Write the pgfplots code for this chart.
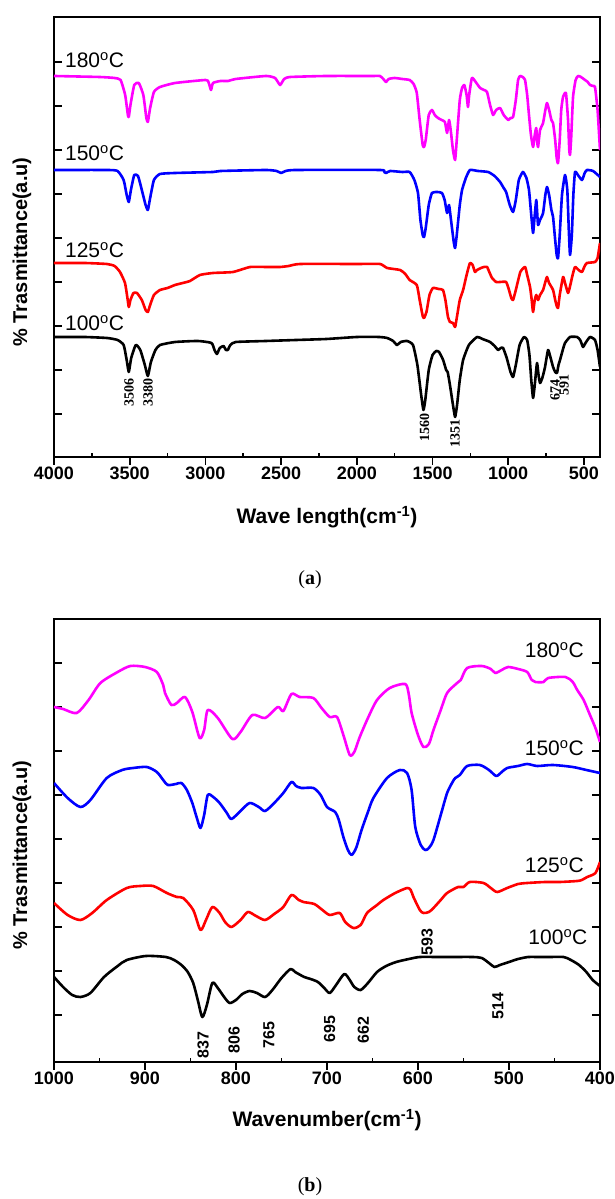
\documentclass[border=0pt]{standalone}
\usepackage{fontspec}
\setmainfont{Liberation Sans}
\newfontfamily\tnr{Liberation Serif}
\usepackage{pgfplots}
\pgfplotsset{compat=1.18}

\definecolor{mag}{RGB}{255,0,255}
\definecolor{blu}{RGB}{0,0,255}
\definecolor{rd}{RGB}{255,0,0}

\tikzset{clab/.style={font=\fontsize{21}{21}\selectfont}}
\pgfplotsset{
  ftir/.style={
    scale only axis, width=546pt, height=440pt,
    x dir=reverse,
    axis line style={line width=2.2pt},
    tick align=inside, major tick length=8pt, minor tick length=4pt,
    every tick/.style={black, line width=1.6pt},
    every major x tick/.append style={yshift=-8pt},
    xtick pos=left, ytick pos=both,
    yticklabels={},
    /pgf/number format/1000 sep={},
    /pgf/number format/assume math mode=true,
    ticklabel style={font=\fontsize{18}{18}\selectfont\bfseries},
    xticklabel style={yshift=-6pt},
    every axis plot/.append style={line width=2.6pt, smooth, tension=0.3, line join=round},
  },
}

\begin{document}
\begin{tikzpicture}
\useasboundingbox (0,0) rectangle (615pt,1199pt);

% ---------- (a) full range ----------
\begin{axis}[ftir, at={(54pt,742pt)}, anchor=south west,
  xmin=394, xmax=4000, ymin=-457, ymax=-17,
  xtick={500,1000,...,4000}, minor xtick={750,1250,...,3750},
  ytick={-414,-370,-326,-282,-238,-194,-150,-106,-62}]
\addplot[black] coordinates {(4000,-337)(3800,-337)(3650,-338)(3580,-340)(3540,-345)(3520,-360)(3506,-372)(3490,-358)(3460,-345)(3430,-350)(3400,-365)(3380,-376)(3360,-362)(3330,-350)(3300,-345)(3200,-342)(3050,-341)(2960,-343)(2940,-350)(2924,-354)(2905,-348)(2880,-346)(2865,-350)(2852,-350)(2835,-345)(2800,-342)(2600,-341)(2400,-340)(2200,-339)(2000,-337)(1850,-337)(1800,-338)(1760,-341)(1735,-345)(1710,-342)(1668,-341)(1629,-345)(1600,-365)(1575,-395)(1560,-410)(1548,-400)(1525,-370)(1500,-355)(1475,-351)(1457,-352)(1430,-360)(1410,-370)(1400,-372)(1385,-385)(1365,-405)(1351,-417)(1338,-405)(1320,-380)(1298,-360)(1260,-345)(1206,-337)(1170,-339)(1120,-342)(1090,-346)(1067,-350)(1050,-348)(1034,-348)(1010,-358)(985,-372)(968,-377)(950,-365)(925,-345)(896,-337)(875,-340)(860,-355)(848,-380)(836,-398)(825,-385)(810,-363)(800,-375)(790,-383)(775,-378)(757,-367)(737,-350)(720,-358)(704,-367)(690,-372)(678,-373)(668,-365)(658,-360)(640,-350)(625,-343)(592,-337)(546,-337)(525,-340)(506,-347)(490,-343)(460,-337)(427,-340)(410,-350)(394,-367)};
\addplot[rd] coordinates {(4000,-263)(3800,-263)(3650,-264)(3600,-266)(3564,-272)(3531,-283)(3515,-298)(3506,-307)(3495,-300)(3475,-293)(3452,-293)(3420,-300)(3395,-310)(3380,-312)(3365,-305)(3340,-295)(3300,-290)(3250,-288)(3201,-285)(3150,-283)(3102,-281)(3036,-275)(2950,-273)(2818,-272)(2705,-267)(2600,-267)(2507,-267)(2450,-266)(2375,-264)(2000,-264)(1847,-264)(1800,-268)(1714,-270)(1680,-274)(1651,-280)(1604,-285)(1585,-300)(1565,-316)(1556,-318)(1540,-312)(1520,-295)(1497,-288)(1460,-289)(1431,-290)(1415,-300)(1398,-317)(1385,-322)(1365,-323)(1351,-327)(1340,-318)(1320,-300)(1298,-290)(1275,-275)(1253,-263)(1235,-265)(1220,-272)(1206,-270)(1180,-268)(1160,-267)(1140,-267)(1125,-272)(1107,-278)(1080,-282)(1054,-282)(1014,-282)(995,-290)(980,-298)(968,-300)(950,-290)(920,-272)(889,-267)(875,-275)(856,-287)(845,-300)(836,-312)(825,-300)(815,-295)(803,-300)(790,-295)(770,-290)(755,-282)(744,-277)(730,-283)(704,-290)(690,-300)(680,-306)(671,-308)(660,-295)(638,-277)(625,-283)(605,-293)(590,-285)(575,-275)(559,-267)(535,-270)(513,-272)(495,-266)(480,-263)(427,-262)(410,-258)(394,-243)};
\addplot[blu] coordinates {(4000,-170)(3650,-170)(3580,-171)(3540,-180)(3520,-195)(3506,-202)(3492,-190)(3470,-175)(3445,-176)(3420,-190)(3395,-205)(3380,-210)(3365,-198)(3340,-180)(3300,-174)(3200,-173)(2950,-172)(2900,-171)(2600,-170)(2530,-171)(2500,-173)(2470,-171)(2400,-170)(1847,-170)(1820,-172)(1807,-173)(1780,-171)(1700,-172)(1651,-172)(1620,-180)(1596,-193)(1580,-220)(1565,-235)(1556,-237)(1545,-228)(1525,-205)(1504,-193)(1470,-192)(1438,-193)(1420,-200)(1404,-213)(1391,-205)(1378,-220)(1360,-242)(1351,-248)(1340,-235)(1320,-205)(1305,-190)(1280,-178)(1253,-170)(1200,-171)(1133,-172)(1090,-176)(1054,-182)(1030,-188)(1014,-192)(990,-205)(968,-212)(950,-200)(930,-180)(903,-172)(880,-178)(863,-190)(848,-215)(836,-233)(825,-215)(815,-200)(810,-210)(803,-225)(790,-220)(770,-213)(755,-195)(744,-187)(730,-195)(715,-210)(704,-217)(690,-240)(680,-255)(671,-258)(660,-235)(645,-195)(625,-175)(610,-190)(600,-230)(592,-255)(580,-235)(570,-195)(559,-172)(540,-175)(513,-180)(495,-173)(480,-170)(440,-171)(394,-177)};
\addplot[mag] coordinates {(4000,-76)(3700,-77)(3600,-78)(3560,-80)(3530,-95)(3512,-115)(3506,-117)(3495,-105)(3470,-85)(3440,-83)(3410,-95)(3390,-118)(3380,-122)(3365,-108)(3340,-92)(3300,-87)(3200,-83)(3000,-80)(2980,-82)(2963,-90)(2950,-83)(2900,-81)(2850,-81)(2800,-79)(2600,-76)(2540,-78)(2507,-85)(2480,-79)(2440,-77)(2200,-76)(1900,-76)(1847,-76)(1825,-79)(1807,-82)(1790,-79)(1750,-78)(1700,-79)(1651,-80)(1625,-84)(1604,-93)(1585,-120)(1565,-145)(1556,-147)(1545,-140)(1525,-115)(1504,-110)(1485,-115)(1464,-118)(1440,-120)(1418,-122)(1404,-133)(1391,-120)(1380,-130)(1365,-150)(1351,-160)(1340,-140)(1320,-100)(1305,-88)(1290,-85)(1275,-95)(1266,-107)(1258,-95)(1240,-78)(1215,-82)(1186,-88)(1160,-90)(1140,-92)(1120,-105)(1100,-115)(1080,-110)(1054,-108)(1030,-115)(1000,-120)(985,-118)(968,-117)(950,-100)(935,-80)(922,-76)(905,-77)(889,-80)(875,-95)(863,-115)(850,-135)(836,-147)(825,-135)(815,-128)(810,-140)(803,-147)(790,-130)(770,-123)(755,-110)(744,-103)(730,-110)(715,-120)(704,-123)(690,-140)(680,-158)(671,-163)(660,-140)(650,-110)(638,-97)(619,-93)(605,-120)(597,-150)(592,-155)(585,-140)(572,-97)(555,-80)(539,-76)(520,-77)(493,-80)(475,-82)(460,-85)(440,-86)(427,-87)(410,-110)(394,-150)};
\node[clab, anchor=west] at (axis cs:3950,-60) {180\textsuperscript{o}C};
\node[clab, anchor=west] at (axis cs:3950,-153) {150\textsuperscript{o}C};
\node[clab, anchor=west] at (axis cs:3950,-250) {125\textsuperscript{o}C};
\node[clab, anchor=west] at (axis cs:3950,-323) {100\textsuperscript{o}C};
\begin{scope}[every node/.style={rotate=90, font=\tnr\fontsize{14}{14}\selectfont\bfseries, inner sep=0pt}]
\node at (axis cs:3505,-393) {3506};
\node at (axis cs:3379,-393) {3380};
\node at (axis cs:1553,-428) {1560};
\node at (axis cs:1351,-434) {1351};
\node at (axis cs:691,-390) {674};
\node at (axis cs:632,-385) {591};
\end{scope}
\end{axis}
\node[rotate=90, font=\fontsize{20}{20}\selectfont\bfseries] at (22pt,947pt) {\% Trasmittance(a.u)};
\node[font=\fontsize{21}{21}\selectfont\bfseries] at (327pt,682pt) {Wave length(cm\textsuperscript{-1})};
\node[font=\tnr\fontsize{20}{20}\selectfont] at (310pt,619pt) {({\bfseries a})};

% ---------- (b) 1000-400 ----------
\begin{axis}[ftir, at={(54pt,137pt)}, anchor=south west, height=443pt,
  xmin=400, xmax=1000, ymin=-1062, ymax=-619,
  xtick={400,500,...,1000}, minor xtick={450,550,...,950},
  ytick={-1015,-971,-927,-883,-839,-795,-751,-707,-663},
  every axis plot/.append style={tension=0.45}]
\addplot[black] coordinates {(1000,-977)(990,-987)(980,-995)(971,-997)(960,-993)(945,-977)(930,-966)(920,-960)(899,-956)(877,-957)(868,-960)(860,-965)(853,-972)(847,-983)(842,-1000)(837,-1017)(832,-1005)(826,-983)(820,-988)(813,-997)(807,-1003)(800,-1000)(793,-994)(785,-991)(777,-993)(768,-997)(760,-990)(750,-978)(740,-969)(735,-972)(725,-977)(718,-979)(710,-982)(703,-988)(697,-993)(690,-985)(681,-974)(675,-980)(670,-987)(663,-990)(655,-983)(645,-972)(635,-966)(624,-962)(610,-959)(598,-957)(580,-957)(563,-957)(540,-957)(530,-958)(522,-963)(516,-967)(510,-965)(500,-962)(490,-959)(479,-957)(470,-957)(455,-957)(440,-957)(432,-960)(423,-965)(415,-972)(408,-980)(400,-986)};
\addplot[rd] coordinates {(1000,-903)(985,-915)(971,-920)(958,-913)(942,-900)(920,-888)(905,-886)(891,-886)(876,-893)(865,-897)(858,-898)(847,-910)(839,-930)(833,-920)(826,-907)(818,-913)(812,-922)(805,-927)(795,-920)(787,-912)(778,-916)(768,-920)(758,-914)(748,-907)(739,-895)(731,-900)(726,-902)(714,-904)(705,-910)(697,-915)(686,-913)(680,-922)(671,-928)(663,-925)(656,-913)(645,-905)(638,-900)(625,-893)(612,-888)(608,-890)(605,-897)(598,-910)(594,-913)(588,-912)(583,-908)(575,-900)(568,-893)(556,-887)(550,-887)(543,-882)(528,-883)(520,-888)(513,-892)(502,-888)(490,-884)(480,-883)(460,-882)(444,-882)(425,-881)(420,-880)(414,-877)(405,-873)(400,-862)};
\addplot[blu] coordinates {(1000,-783)(985,-798)(971,-807)(960,-800)(942,-778)(925,-770)(913,-768)(898,-767)(887,-772)(880,-780)(875,-785)(866,-784)(860,-783)(854,-790)(848,-803)(843,-818)(839,-828)(835,-815)(831,-795)(825,-797)(818,-803)(810,-813)(805,-819)(795,-811)(785,-803)(775,-807)(768,-811)(758,-803)(748,-793)(739,-782)(734,-786)(728,-788)(715,-788)(707,-795)(700,-807)(691,-812)(687,-820)(682,-837)(677,-850)(673,-855)(668,-848)(662,-830)(655,-812)(649,-798)(634,-778)(620,-770)(612,-773)(607,-790)(603,-827)(597,-845)(592,-850)(588,-848)(583,-840)(575,-815)(568,-793)(562,-782)(559,-778)(554,-775)(546,-766)(532,-765)(522,-770)(514,-776)(508,-772)(502,-768)(490,-766)(480,-764)(469,-766)(452,-765)(430,-767)(415,-770)(400,-773)};
\addplot[mag] coordinates {(1000,-707)(990,-709)(975,-713)(962,-700)(949,-683)(930,-672)(916,-666)(900,-667)(887,-672)(880,-685)(878,-693)(871,-705)(865,-703)(856,-697)(848,-712)(840,-738)(835,-730)(831,-710)(820,-718)(804,-739)(795,-732)(782,-715)(768,-718)(754,-707)(748,-711)(739,-694)(730,-697)(715,-698)(706,-708)(697,-717)(689,-717)(682,-735)(675,-755)(670,-752)(664,-737)(655,-718)(645,-700)(631,-688)(614,-684)(610,-695)(607,-713)(600,-735)(594,-747)(588,-744)(583,-730)(575,-710)(568,-693)(557,-683)(553,-680)(546,-668)(530,-666)(520,-669)(515,-673)(508,-670)(501,-667)(490,-669)(480,-672)(475,-680)(471,-682)(462,-682)(457,-678)(438,-677)(430,-682)(425,-690)(418,-700)(411,-715)(405,-728)(400,-742)};
\node[clab, anchor=east] at (axis cs:414,-650) {180\textsuperscript{o}C};
\node[clab, anchor=east] at (axis cs:414,-748) {150\textsuperscript{o}C};
\node[clab, anchor=east] at (axis cs:414,-865) {125\textsuperscript{o}C};
\node[clab, anchor=east] at (axis cs:410,-937) {100\textsuperscript{o}C};
\begin{scope}[every node/.style={rotate=90, font=\fontsize{16}{16}\selectfont\bfseries, inner sep=0pt}]
\node at (axis cs:836,-1045) {837};
\node at (axis cs:802,-1040) {806};
\node at (axis cs:764,-1035) {765};
\node at (axis cs:697,-1029) {695};
\node at (axis cs:660,-1030) {662};
\node at (axis cs:512,-1006) {514};
\node at (axis cs:590,-942) {593};
\end{scope}
\end{axis}
\node[rotate=90, font=\fontsize{20}{20}\selectfont\bfseries] at (22pt,344pt) {\% Trasmittance(a.u)};
\node[font=\fontsize{21}{21}\selectfont\bfseries] at (327pt,79pt) {Wavenumber(cm\textsuperscript{-1})};
\node[font=\tnr\fontsize{20}{20}\selectfont] at (310pt,12pt) {({\bfseries b})};
\end{tikzpicture}
\end{document}
